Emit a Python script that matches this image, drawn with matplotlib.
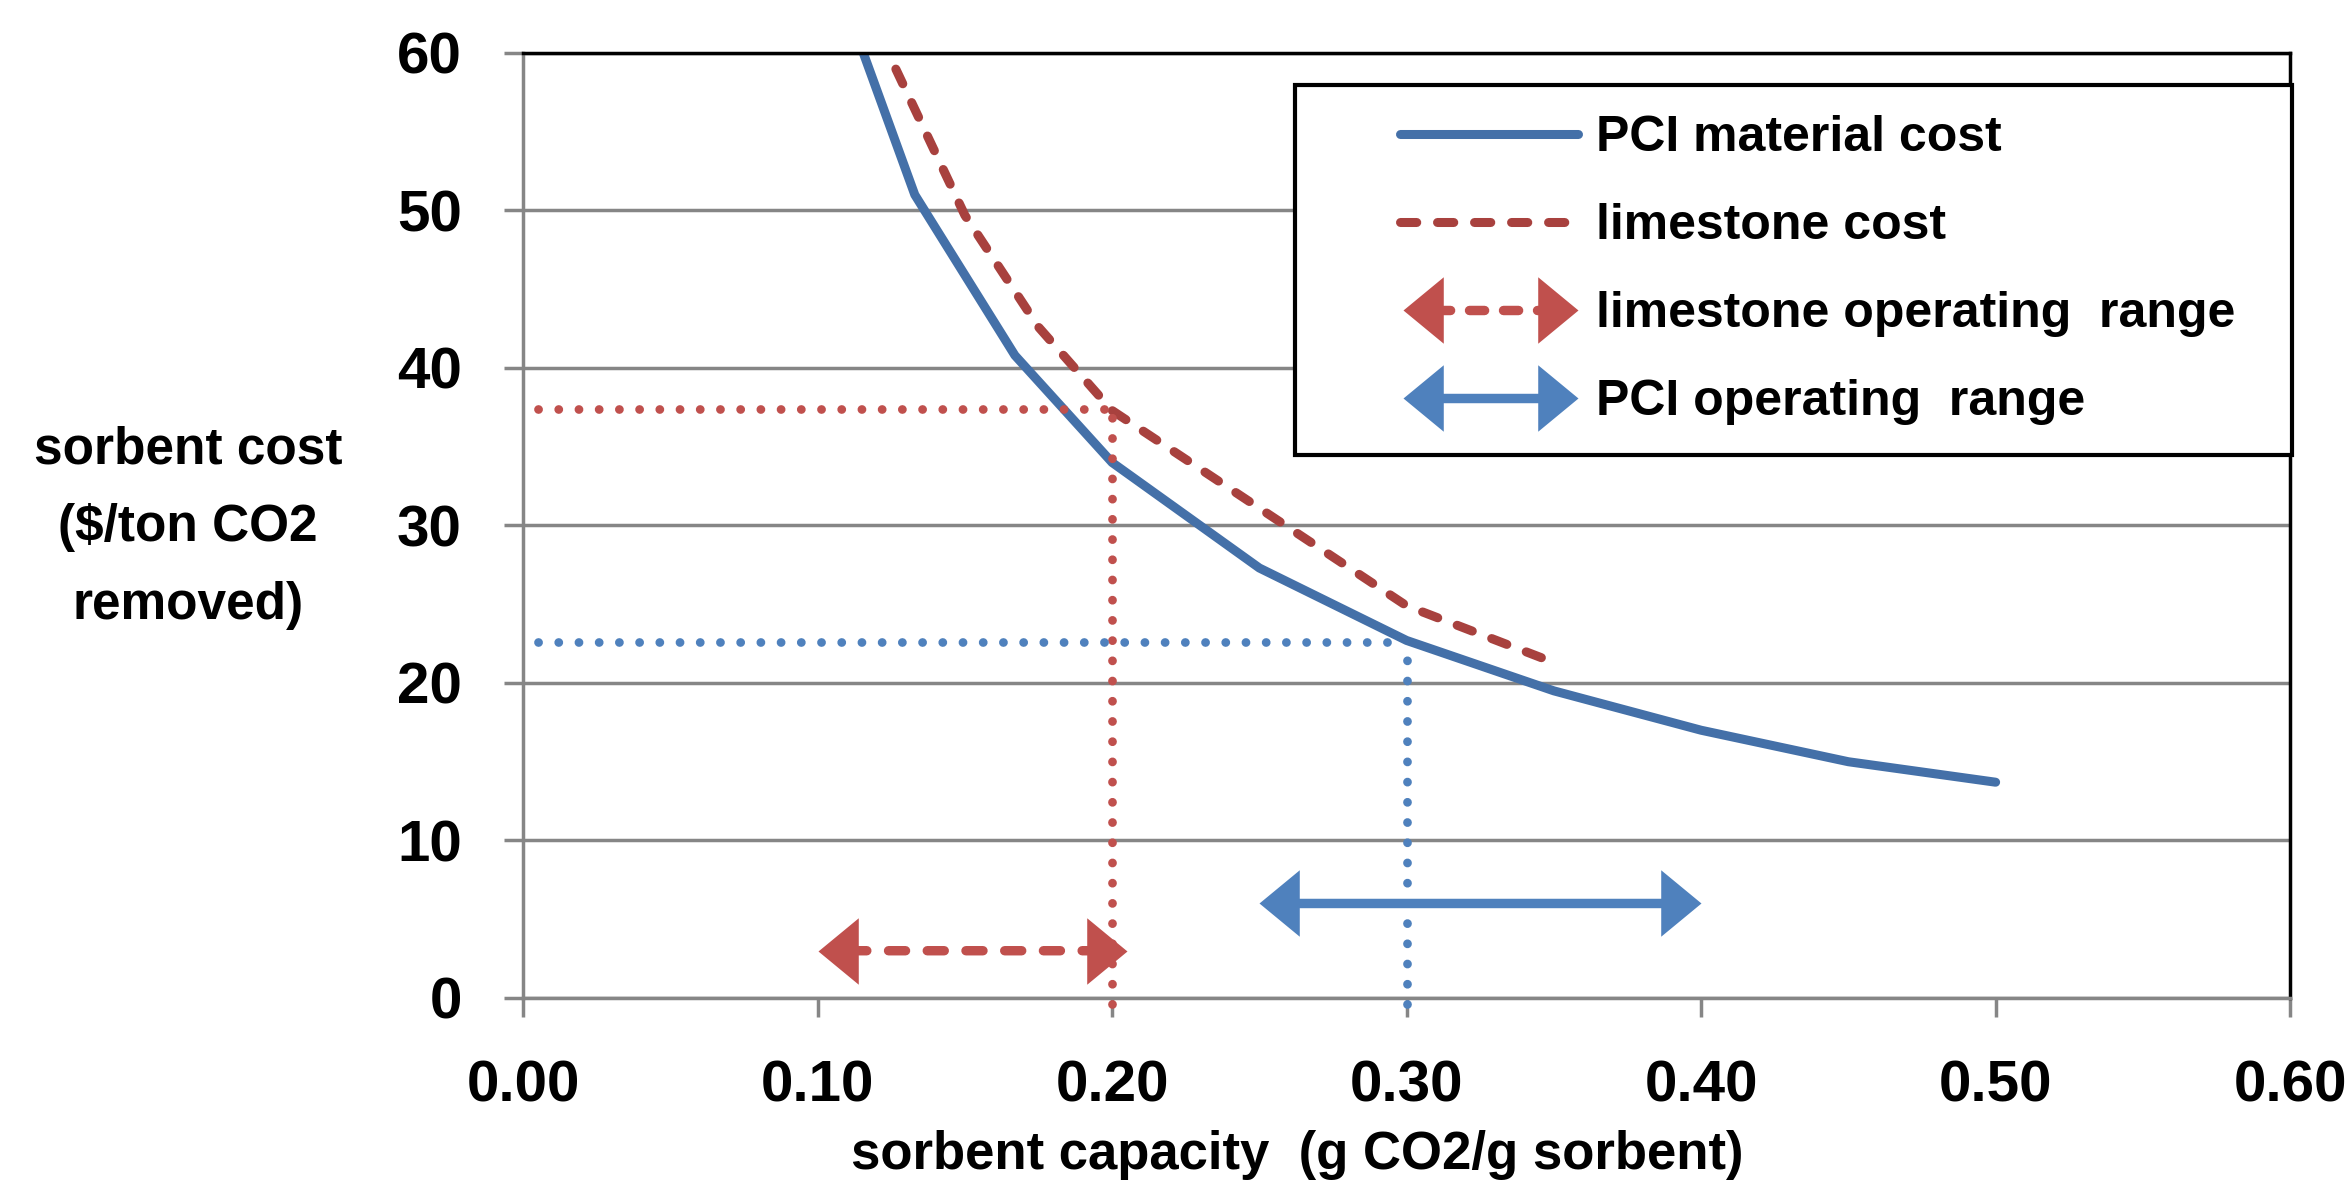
import matplotlib
matplotlib.use("Agg")
import matplotlib.pyplot as plt
from matplotlib.lines import Line2D
from matplotlib.legend_handler import HandlerBase, HandlerLine2D

plt.rcParams['font.family'] = ['Liberation Sans', 'DejaVu Sans']
plt.rcParams['font.weight'] = 'bold'

# curves
pci_capacity = [0.10, 0.133, 0.167, 0.20, 0.25, 0.30, 0.35, 0.40, 0.45, 0.50]
pci_cost = [68.0, 51.0, 40.8, 34.0, 27.3, 22.7, 19.5, 17.0, 15.0, 13.7]
lime_capacity = [0.10, 0.125, 0.15, 0.175, 0.20, 0.25, 0.30, 0.35]
lime_cost = [74.5, 59.6, 49.7, 42.6, 37.3, 31.1, 24.9, 21.3]

# operating points (dotted guides)
lime_point = (0.20, 37.4)
pci_point = (0.30, 22.6)
guide_x0 = 0.005
guide_y0 = -0.4

# operating ranges (double arrows)
lime_range = (0.10, 0.205)
lime_range_y = 3.0
pci_range = (0.25, 0.40)
pci_range_y = 6.0

x_ticks = [0.0, 0.1, 0.2, 0.3, 0.4, 0.5, 0.6]
y_ticks = [0, 10, 20, 30, 40, 50, 60]
legend_labels = ['PCI material cost', 'limestone cost',
                 'limestone operating  range', 'PCI operating  range']

BLUE_LINE = '#4470A8'
RED_LINE = '#A8413E'
BLUE = '#4F81BD'
RED = '#C0504D'
GRAY = '#868686'

HEAD_L = 29   # arrow head length, points
HEAD_MS = 2 * HEAD_L
RIGHT_HEAD = [(0, 0), (-40, 33), (-40, -33), (0, 0)]
LEFT_HEAD = [(0, 0), (40, 33), (40, -33), (0, 0)]


class ArrowHandler(HandlerBase):
    def create_artists(self, legend, orig_handle, xdescent, ydescent,
                       width, height, fontsize, trans):
        y = height / 2 - ydescent
        x0 = -xdescent
        x1 = -xdescent + width
        c = orig_handle.get_color()
        shaft = Line2D([x0 + HEAD_L * 0.8, x1 - HEAD_L * 0.8], [y, y])
        shaft.update_from(orig_handle)
        shaft.set_transform(trans)
        left = Line2D([x0], [y], marker=LEFT_HEAD, ms=HEAD_MS, color=c,
                      mew=0, ls='none', transform=trans)
        right = Line2D([x1], [y], marker=RIGHT_HEAD, ms=HEAD_MS, color=c,
                       mew=0, ls='none', transform=trans)
        return [shaft, left, right]


def range_arrow(ax, xr, y, color, ls):
    ax.annotate('', xy=(xr[1], y), xytext=(xr[0], y),
                arrowprops=dict(arrowstyle='-', color=color, lw=6.8,
                                linestyle=ls, capstyle='round',
                                shrinkA=HEAD_L * 0.8, shrinkB=HEAD_L * 0.8),
                zorder=4)
    ax.plot([xr[0]], [y], marker=LEFT_HEAD, ms=HEAD_MS, color=color,
            mew=0, ls='none', zorder=5)
    ax.plot([xr[1]], [y], marker=RIGHT_HEAD, ms=HEAD_MS, color=color,
            mew=0, ls='none', zorder=5)


fig = plt.figure(figsize=(23.52, 11.83), dpi=100)
ax = fig.add_axes([0.2224, 0.1564, 0.7513, 0.7988])

ax.set_xlim(0, 0.6)
ax.set_ylim(0, 60)
ax.set_xticks(x_ticks)
ax.set_xticklabels(['%.2f' % v for v in x_ticks])
ax.set_yticks(y_ticks)
ax.yaxis.grid(True, color=GRAY, lw=2.5, zorder=0)
ax.set_axisbelow(True)

ax.tick_params(axis='both', direction='out', length=14, width=2.5,
               color=GRAY, labelsize=42)
ax.tick_params(axis='x', pad=30)
ax.tick_params(axis='y', pad=30)
for s in ['left', 'bottom']:
    ax.spines[s].set_color(GRAY)
    ax.spines[s].set_linewidth(2.5)
for s in ['top', 'right']:
    ax.spines[s].set_color('black')
    ax.spines[s].set_linewidth(2.5)

# dotted guides
dot = (0, (0.01, 2.3))
guide_kw = dict(lw=6.3, linestyle=dot, dash_capstyle='round', zorder=3)
ax.plot([guide_x0, lime_point[0]], [lime_point[1], lime_point[1]], color=RED,
        **guide_kw)
ax.plot([lime_point[0], lime_point[0]], [guide_y0, lime_point[1]], color=RED,
        clip_on=False, **guide_kw)
ax.plot([guide_x0, pci_point[0]], [pci_point[1], pci_point[1]], color=BLUE,
        **guide_kw)
ax.plot([pci_point[0], pci_point[0]], [guide_y0, pci_point[1]], color=BLUE,
        clip_on=False, **guide_kw)

pci_line, = ax.plot(pci_capacity, pci_cost, color=BLUE_LINE, lw=6.5,
                    solid_capstyle='round', zorder=2)
lime_line, = ax.plot(lime_capacity, lime_cost, color=RED_LINE, lw=6.5,
                     linestyle=(0, (1.8, 2.3)), dash_capstyle='round', zorder=2)

range_arrow(ax, lime_range, lime_range_y, RED, (0, (1.8, 2.3)))
range_arrow(ax, pci_range, pci_range_y, BLUE, '-')

lime_proxy = Line2D([], [], color=RED, lw=6.8, linestyle=(0, (1.6, 2.0)),
                    dash_capstyle='round')
pci_proxy = Line2D([], [], color=BLUE, lw=6.8)

leg = ax.legend([pci_line, lime_line, lime_proxy, pci_proxy], legend_labels,
                loc='upper left', bbox_to_anchor=(0.4369, 0.0, 0.564, 0.966),
                mode='expand', borderaxespad=0, fontsize=36, frameon=True,
                fancybox=False, framealpha=1, borderpad=0.6,
                labelspacing=0.84, handlelength=5.05, handletextpad=0.36,
                handler_map={pci_line: HandlerLine2D(xpad=1.5),
                             lime_line: HandlerLine2D(xpad=1.5),
                             lime_proxy: ArrowHandler(xpad=1.55),
                             pci_proxy: ArrowHandler(xpad=1.55)})
leg.get_frame().set_edgecolor('black')
leg.get_frame().set_linewidth(3)

fig.text(188 / 2352, 1 - 528 / 1183, 'sorbent cost\n($/ton CO2\nremoved)',
         ha='center', va='center', multialignment='center', fontsize=37,
         fontweight='bold', linespacing=1.75)
fig.text(1297 / 2352, 1 - 1155 / 1183, 'sorbent capacity  (g CO2/g sorbent)',
         ha='center', va='center', fontsize=38, fontweight='bold')

fig.savefig('out.png', dpi=100)
